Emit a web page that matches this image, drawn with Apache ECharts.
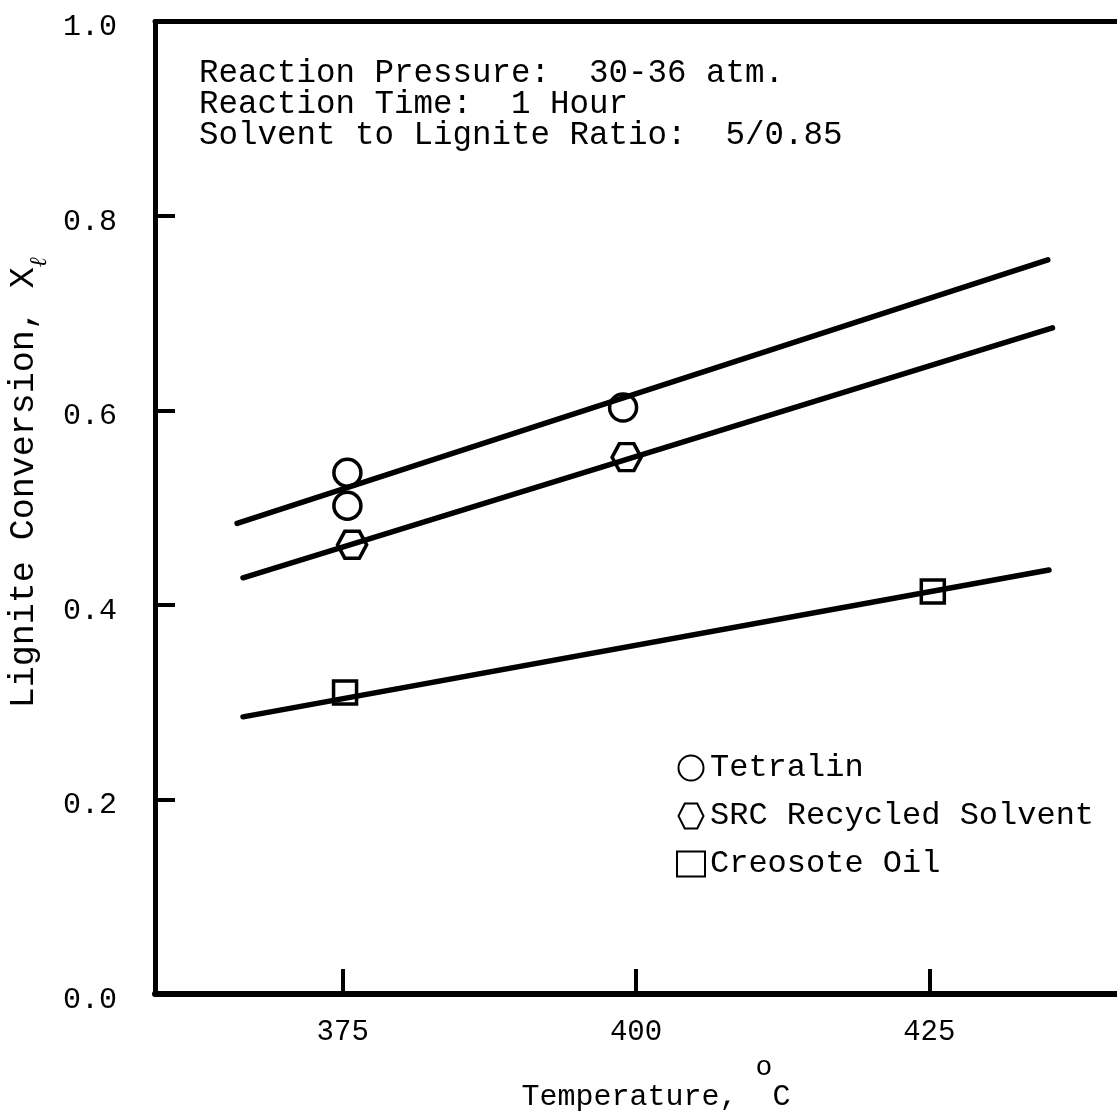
<!DOCTYPE html>
<html>
<head>
<meta charset="utf-8">
<title>Lignite Conversion vs Temperature</title>
<script src="https://cdn.jsdelivr.net/npm/echarts@6/dist/echarts.min.js"></script>
<style>
  html, body { margin: 0; padding: 0; background: #fff; }
  #chart { width: 1117px; height: 1115px; }
</style>
</head>
<body>
<div id="chart"></div>
<script>
// Measured conversions (temperature in °C, conversion fraction)
const tetralinPoints = [[375.4, 0.536], [375.4, 0.502], [398.9, 0.603]];
const srcPoints = [[375.8, 0.462], [399.2, 0.552]];
const creosotePoints = [[375.2, 0.310], [425.3, 0.414]];

// Straight-line fits drawn through each solvent's data
const tetralinFit = [[366.0, 0.484], [435.1, 0.755]];
const srcFit = [[366.5, 0.428], [435.5, 0.685]];
const creosoteFit = [[366.5, 0.285], [435.2, 0.436]];

const seriesNames = ['Tetralin', 'SRC Recycled Solvent', 'Creosote Oil'];
const xTickValues = [375, 400, 425];
const yTickValues = [0, 0.2, 0.4, 0.6, 0.8, 1.0];
const conditionLines = [
  'Reaction Pressure:  30-36 atm.',
  'Reaction Time:  1 Hour',
  'Solvent to Lignite Ratio:  5/0.85'
];

const FONT = '"Liberation Mono", "DejaVu Sans Mono", monospace';
const INK = '#000';
const HEXAGON = 'path://M-1,0L-0.5,-1L0.5,-1L1,0L0.5,1L-0.5,1Z';

const chart = echarts.init(document.getElementById('chart'), null, { renderer: 'canvas' });

function fitSeries(data) {
  return {
    type: 'line',
    data: data,
    symbol: 'none',
    silent: true,
    lineStyle: { color: INK, width: 5.5, cap: 'round' },
    z: 2
  };
}

function pointSeries(name, data, symbol, size) {
  return {
    name: name,
    type: 'scatter',
    data: data,
    symbol: symbol,
    symbolSize: size,
    itemStyle: { color: 'rgba(255,255,255,0)', borderColor: INK, borderWidth: 3.5, opacity: 1 },
    z: 3
  };
}

const option = {
  backgroundColor: '#fff',
  animation: false,
  grid: { left: 155, right: 0, top: 21.5, bottom: 121, containLabel: false, outerBoundsMode: 'none' },
  xAxis: [
    {
      type: 'value',
      min: 359,
      max: 441,
      position: 'bottom',
      axisLine: { show: true, lineStyle: { color: INK, width: 6 } },
      axisTick: { show: true, inside: true, length: 25, customValues: xTickValues, lineStyle: { color: INK, width: 4 } },
      axisLabel: { show: true, customValues: xTickValues, margin: 24, fontFamily: FONT, fontSize: 29, color: INK },
      splitLine: { show: false },
      name: '{a|Temperature, }{o|o}{a|C}',
      nameLocation: 'middle',
      nameGap: 60,
      nameTextStyle: {
        padding: [0, 0, 0, 40],
        rich: {
          a: { fontFamily: FONT, fontSize: 30, color: INK, lineHeight: 58, verticalAlign: 'bottom' },
          o: { fontFamily: FONT, fontSize: 28, color: INK, lineHeight: 28, verticalAlign: 'top' }
        }
      }
    },
    {
      type: 'value',
      min: 359,
      max: 441,
      position: 'top',
      axisLine: { show: true, lineStyle: { color: INK, width: 5 } },
      axisTick: { show: false },
      axisLabel: { show: false },
      splitLine: { show: false }
    }
  ],
  yAxis: {
    type: 'value',
    min: 0,
    max: 1,
    interval: 0.2,
    axisLine: { show: true, lineStyle: { color: INK, width: 5 } },
    axisTick: { show: true, inside: true, length: 20, customValues: yTickValues.slice(1, 5), lineStyle: { color: INK, width: 4 } },
    axisLabel: {
      show: true,
      customValues: yTickValues,
      margin: 38,
      verticalAlign: 'top',
      lineHeight: 12,
      fontFamily: FONT,
      fontSize: 30,
      color: INK,
      formatter: function (v) { return v.toFixed(1); }
    },
    splitLine: { show: false },
    name: '{a|Lignite Conversion, X}{s|ℓ}',
    nameLocation: 'middle',
    nameRotate: 90,
    nameGap: 96,
    nameTextStyle: {
      padding: [0, 0, 0, 50],
      rich: {
        a: { fontFamily: FONT, fontSize: 35, color: INK, lineHeight: 46, verticalAlign: 'top' },
        s: { fontFamily: '"DejaVu Serif", serif', fontStyle: 'italic', fontSize: 24, color: INK, lineHeight: 24, verticalAlign: 'bottom' }
      }
    }
  },
  legend: {
    orient: 'vertical',
    left: 676,
    top: 752,
    padding: 0,
    itemWidth: 28,
    itemHeight: 25,
    itemGap: 16,
    selectedMode: false,
    data: seriesNames,
    textStyle: { fontFamily: FONT, fontSize: 32, color: INK }
  },
  graphic: [
    {
      type: 'text',
      left: 199,
      top: 57,
      silent: true,
      style: {
        text: conditionLines.join('\n'),
        fontFamily: FONT,
        fontSize: 32.5,
        lineHeight: 31,
        fill: INK
      }
    }
  ],
  series: [
    fitSeries(tetralinFit),
    fitSeries(srcFit),
    fitSeries(creosoteFit),
    pointSeries(seriesNames[0], tetralinPoints, 'circle', 27),
    pointSeries(seriesNames[1], srcPoints, HEXAGON, [29, 27]),
    pointSeries(seriesNames[2], creosotePoints, 'rect', 23)
  ]
};

chart.setOption(option);
</script>
</body>
</html>
